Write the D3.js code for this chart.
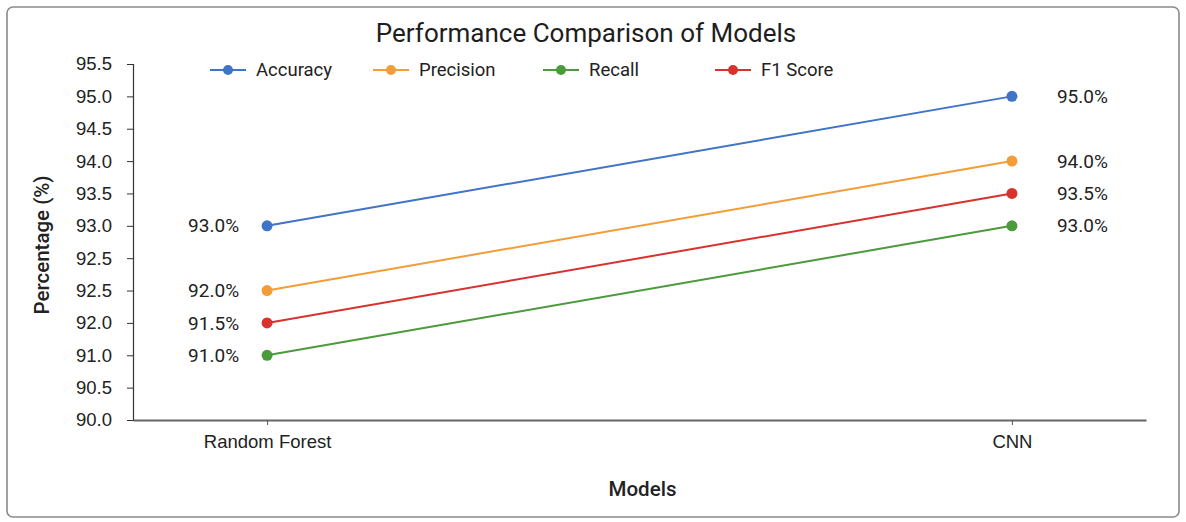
<!DOCTYPE html>
<html>
<head>
<meta charset="utf-8">
<script src="https://cdn.jsdelivr.net/npm/d3@7/dist/d3.min.js"></script>
<style>
  html, body { margin: 0; padding: 0; background: #fff; }
  svg { display: block; font-family: Roboto, "Liberation Sans", sans-serif; }
</style>
</head>
<body>
<svg id="chart" width="1186" height="522"></svg>
<script>
// Models on the x axis
const models = ["Random Forest", "CNN"];

// Metric scores per model (%)
const accuracy  = [93.0, 95.0];
const precision = [92.0, 94.0];
const recall    = [91.0, 93.0];
const f1Score   = [91.5, 93.5];

const seriesNames  = ["Accuracy", "Precision", "Recall", "F1 Score"];
const seriesColors = ["#3f74c7", "#f29d38", "#4b9a3c", "#d8322f"];

// Y axis tick values and the labels printed beside them
const yTickValues = [90.0, 90.5, 91.0, 91.5, 92.0, 92.5, 93.0, 93.5, 94.0, 94.5, 95.0, 95.5];
const yTickLabels = ["90.0", "90.5", "91.0", "92.0", "92.5", "92.5", "93.0", "93.5", "94.0", "94.5", "95.0", "95.5"];

const series = [accuracy, precision, recall, f1Score].map((vals, i) => ({
  name: seriesNames[i],
  color: seriesColors[i],
  values: vals.map((v, j) => ({ model: models[j], value: v }))
}));

const svg = d3.select("#chart");

// Outer frame
svg.append("rect")
  .attr("x", 7).attr("y", 7)
  .attr("width", 1172).attr("height", 510)
  .attr("rx", 6)
  .attr("fill", "#fff")
  .attr("stroke", "#8a8a8a")
  .attr("stroke-width", 1.6);

const plot = { left: 133, right: 1146, top: 64, bottom: 420 };

const x = d3.scalePoint()
  .domain(models)
  .range([plot.left, plot.right])
  .padding(0.18);

const y = d3.scaleLinear()
  .domain([90, 95.5])
  .range([plot.bottom, plot.top]);

// Y axis
const yAxis = svg.append("g")
  .attr("transform", `translate(${plot.left},0)`)
  .call(d3.axisLeft(y)
    .tickValues(yTickValues)
    .tickFormat((d, i) => yTickLabels[i])
    .tickSize(6)
    .tickSizeOuter(6));
yAxis.select(".domain").attr("stroke", "#333").attr("stroke-width", 1.2);
yAxis.selectAll(".tick line").attr("stroke", "#333");
yAxis.selectAll(".tick text")
  .attr("x", -21)
  .attr("fill", "#222")
  .style("font-size", "18.5px");

// X axis
const xAxis = svg.append("g")
  .attr("transform", `translate(0,${plot.bottom})`)
  .call(d3.axisBottom(x).tickSize(5).tickSizeOuter(0));
xAxis.select(".domain").attr("stroke", "#666").attr("stroke-width", 2.2);
xAxis.selectAll(".tick line").attr("stroke", "#555");
xAxis.selectAll(".tick text")
  .attr("y", 15)
  .attr("fill", "#222")
  .style("font-size", "18.5px");

// Axis titles
svg.append("text")
  .attr("x", (plot.left + plot.right) / 2 + 3)
  .attr("y", 496)
  .attr("text-anchor", "middle")
  .attr("fill", "#222")
  .style("font-size", "20.5px")
  .style("font-weight", 500)
  .text("Models");

svg.append("text")
  .attr("transform", `translate(49,${(plot.top + plot.bottom) / 2 + 3}) rotate(-90)`)
  .attr("text-anchor", "middle")
  .attr("fill", "#222")
  .style("font-size", "20.5px")
  .style("font-weight", 500)
  .text("Percentage (%)");

// Title
svg.append("text")
  .attr("x", 586)
  .attr("y", 42)
  .attr("text-anchor", "middle")
  .attr("fill", "#1e1e1e")
  .style("font-size", "26px")
  .style("font-weight", 400)
  .text("Performance Comparison of Models");

// Lines and markers
const line = d3.line()
  .x(d => x(d.model))
  .y(d => y(d.value));

const g = svg.append("g");
series.forEach(s => {
  g.append("path")
    .datum(s.values)
    .attr("fill", "none")
    .attr("stroke", s.color)
    .attr("stroke-width", 2)
    .attr("d", line);
  g.selectAll(null)
    .data(s.values)
    .join("circle")
    .attr("cx", d => x(d.model))
    .attr("cy", d => y(d.value))
    .attr("r", 5.5)
    .attr("fill", s.color);
  // Value labels: left of the first model, right of the last
  g.selectAll(null)
    .data(s.values)
    .join("text")
    .attr("x", (d, i) => i === 0 ? x(d.model) - 28 : x(d.model) + 45)
    .attr("y", d => y(d.value))
    .attr("dy", "0.35em")
    .attr("text-anchor", (d, i) => i === 0 ? "end" : "start")
    .attr("fill", "#222")
    .style("font-size", "19px")
    .text(d => d.value.toFixed(1) + "%");
});

// Legend
const legendX = [210, 373, 543, 715];
const legend = svg.append("g").attr("transform", "translate(0,70)");
series.forEach((s, i) => {
  const item = legend.append("g").attr("transform", `translate(${legendX[i]},0)`);
  item.append("line")
    .attr("x1", 0).attr("x2", 36)
    .attr("stroke", s.color).attr("stroke-width", 2);
  item.append("circle")
    .attr("cx", 18).attr("r", 5)
    .attr("fill", s.color);
  item.append("text")
    .attr("x", 46)
    .attr("dy", "0.35em")
    .attr("fill", "#222")
    .style("font-size", "18.5px")
    .text(s.name);
});
</script>
</body>
</html>
